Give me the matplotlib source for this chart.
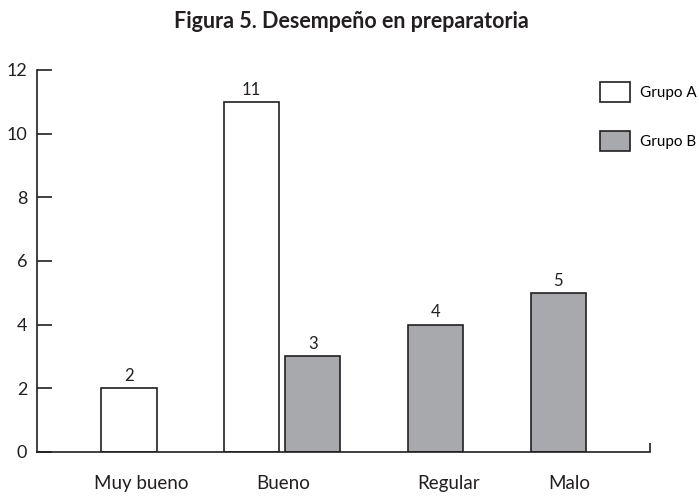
import numpy as np
import matplotlib
matplotlib.use("Agg")
import matplotlib.pyplot as plt
from matplotlib.patches import Patch

plt.rcParams['font.family'] = ['Lato', 'DejaVu Sans']

categorias = ['Muy bueno', 'Bueno', 'Regular', 'Malo']
grupo_a = [2, 11, 0, 0]
grupo_b = [0, 3, 4, 5]
y_ticks = [0, 2, 4, 6, 8, 10, 12]

color_a = 'white'
color_b = '#a8a9ac'
edge = '#231f20'

fig = plt.figure(figsize=(6.99, 4.96), dpi=100)
ax = fig.add_axes([0.053, 0.089, 0.877, 0.770])

x = np.arange(len(categorias))
width = 0.45
off = 0.25

# only draw non-empty bars
xa = [x[i] - off for i in range(len(x)) if grupo_a[i] > 0]
va = [v for v in grupo_a if v > 0]
xb = [x[i] + off for i in range(len(x)) if grupo_b[i] > 0]
vb = [v for v in grupo_b if v > 0]

bars_a = ax.bar(xa, va, width, color=color_a, edgecolor=edge, linewidth=1.2)
bars_b = ax.bar(xb, vb, width, color=color_b, edgecolor=edge, linewidth=1.2)
ax.bar_label(bars_a, padding=3, fontsize=12, color=edge)
ax.bar_label(bars_b, padding=3, fontsize=12, color=edge)

ax.set_xlim(-1.0, 4.0)
ax.set_ylim(0, 12)
ax.set_yticks(y_ticks)
ax.tick_params(axis='y', direction='in', length=11, width=1.2, pad=7,
               labelsize=13, colors=edge)

# category labels sit slightly right of the bars, like in the original
label_pos = [-0.15, 1.01, 2.36, 3.34]
ax.set_xticks(label_pos)
ax.set_xticklabels(categorias)
ax.tick_params(axis='x', length=0, pad=17, labelsize=13.5, colors=edge)
ax.set_xticks([4.0], minor=True)
ax.tick_params(axis='x', which='minor', direction='in', length=6.5, width=1.2,
               color=edge)

for s in ['top', 'right']:
    ax.spines[s].set_visible(False)
for s in ['left', 'bottom']:
    ax.spines[s].set_linewidth(1.2)
    ax.spines[s].set_color(edge)

handles = [Patch(facecolor=color_a, edgecolor=edge, linewidth=1.2),
           Patch(facecolor=color_b, edgecolor=edge, linewidth=1.2)]
fig.legend(handles, ['Grupo A', 'Grupo B'], loc='upper left',
           bbox_to_anchor=(600 / 699, 1 - 82 / 496), frameon=False,
           fontsize=11, handlelength=1.96, handleheight=1.63,
           labelspacing=1.9, handletextpad=0.65, borderpad=0, borderaxespad=0)

fig.text(0.502, 1 - 22 / 496, 'Figura 5. Desempeño en preparatoria',
         ha='center', va='center', fontsize=15.5, fontweight='bold', color=edge)

fig.savefig('out.png', dpi=100)
